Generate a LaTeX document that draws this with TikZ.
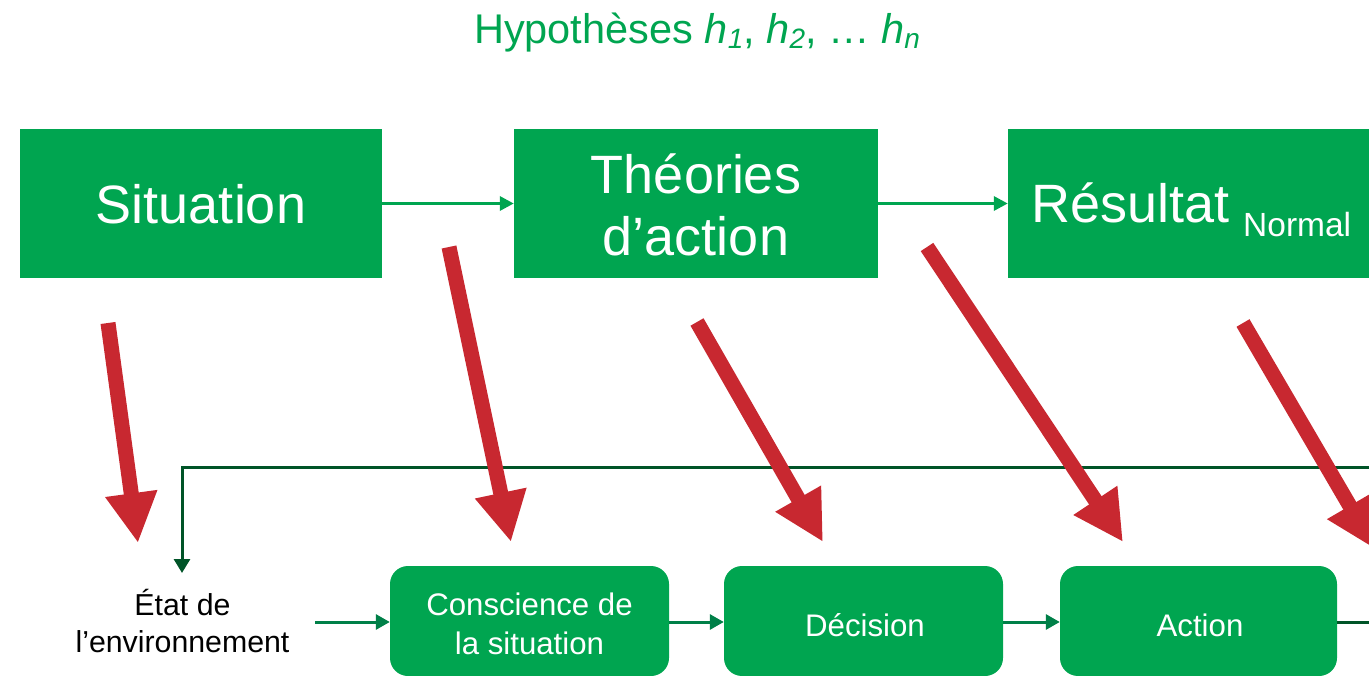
\documentclass[tikz,border=0pt]{standalone}
\usepackage{fontspec}
\setmainfont{Liberation Sans}
\usetikzlibrary{arrows.meta}
\definecolor{boxgreen}{RGB}{0,165,80}
\definecolor{darkgreen}{RGB}{0,84,40}
\definecolor{midgreen}{RGB}{0,128,72}
\definecolor{arrowred}{RGB}{200,40,48}
\newcommand{\hsub}[1]{\raisebox{-5pt}{\fontsize{28}{28}\selectfont\itshape #1}}
\begin{document}
\begin{tikzpicture}[x=1pt,y=-1pt,
  bigbox/.style={draw=none,fill=boxgreen,minimum width=#1,minimum height=149pt,inner sep=0pt},
  smallbox/.style={draw=none,fill=boxgreen,rounded corners=18pt,minimum width=#1,minimum height=110pt,inner sep=0pt},
  bigtext/.style={text=white,font=\fontsize{54}{62}\selectfont,anchor=base,inner sep=0pt},
  smalltext/.style={text=white,font=\fontsize{31.2}{37}\selectfont,anchor=base,inner sep=0pt},
  plaintext/.style={text=black,font=\fontsize{30.3}{37}\selectfont,anchor=base,inner sep=0pt},
  toparrow/.style={draw=boxgreen,line width=3.3pt,-{Triangle[length=14pt,width=14pt]}},
  botarrow/.style={draw=midgreen,line width=3pt,-{Triangle[length=14pt,width=15pt]}},
  fbline/.style={draw=darkgreen,line width=3pt},
  fbarrow/.style={draw=darkgreen,line width=3pt,-{Triangle[length=14pt,width=16pt]}},
  redarrow/.style={draw=arrowred,line width=15pt,-{Triangle[length=50pt,width=49pt]}}
]
\useasboundingbox (0,0) rectangle (1369,676);
\clip (0,0) rectangle (1369,676);

% title
\node[anchor=base,inner sep=0pt,text=boxgreen,font=\fontsize{41.5}{44}\selectfont] (title) at (697,44)
  {Hypothèses {\itshape h}\hsub{1}, {\itshape h}\hsub{2}, … {\itshape h}\hsub{n}};

% top boxes
\node[bigbox=362pt] (sit) at (201,203.5) {};
\node[bigbox=364pt] (theo) at (696,203.5) {};
\node[bigbox=372pt] (res) at (1194,203.5) {};
\node[bigtext] (sitT) at (201,224) {Situation};
\node[bigtext] (theoT1) at (696,194) {Théories};
\node[bigtext] (theoT2) at (696,256) {d’action};
\node[bigtext,anchor=base west] (resT) at (1031,223) {Résultat};
\node[anchor=base west,inner sep=0pt,text=white,font=\fontsize{33.5}{36}\selectfont] (resN) at (1243,237) {Normal};

\draw[toparrow] (sit.east) -- (theo.west);
\draw[toparrow] (theo.east) -- (res.west);

% bottom boxes
\node[smallbox=279pt] (cons) at (529.5,621) {};
\node[smallbox=279pt] (dec) at (863.5,621) {};
\node[smallbox=277pt] (act) at (1198.5,621) {};
\node[smalltext] (consT1) at (529.5,615) {Conscience de};
\node[smalltext] (consT2) at (529.5,654) {la situation};
\node[smalltext] (decT) at (865,636) {Décision};
\node[smalltext] (actT) at (1200,636) {Action};

% environment state
\node[plaintext] (etat1) at (182.5,615) {État de};
\node[plaintext] (etat2) at (182.5,652) {l’environnement};
\coordinate (etatR) at (315,622);
\coordinate (etatTop) at (182,573);
\coordinate (fbR) at (1380,467);
\coordinate (outR) at (1380,622);

\draw[botarrow] (etatR) -- (cons.west |- etatR);
\draw[botarrow] (cons.east |- etatR) -- (dec.west |- etatR);
\draw[botarrow] (dec.east |- etatR) -- (act.west |- etatR);
\draw[fbline] (act.east |- etatR) -- (outR);
\draw[fbarrow] (fbR) -| (etatTop);

% red arrows
\coordinate (r1a) at (108,323);  \coordinate (r1b) at (138,543);
\coordinate (r2a) at (449,247);  \coordinate (r2b) at (511,542);
\coordinate (r3a) at (697,322);  \coordinate (r3b) at (823,542);
\coordinate (r4a) at (927,247);  \coordinate (r4b) at (1123,542);
\coordinate (r5a) at (1243,323); \coordinate (r5b) at (1375,549);
\draw[redarrow] (r1a) -- (r1b);
\draw[redarrow] (r2a) -- (r2b);
\draw[redarrow] (r3a) -- (r3b);
\draw[redarrow] (r4a) -- (r4b);
\draw[redarrow] (r5a) -- (r5b);
\end{tikzpicture}
\end{document}
